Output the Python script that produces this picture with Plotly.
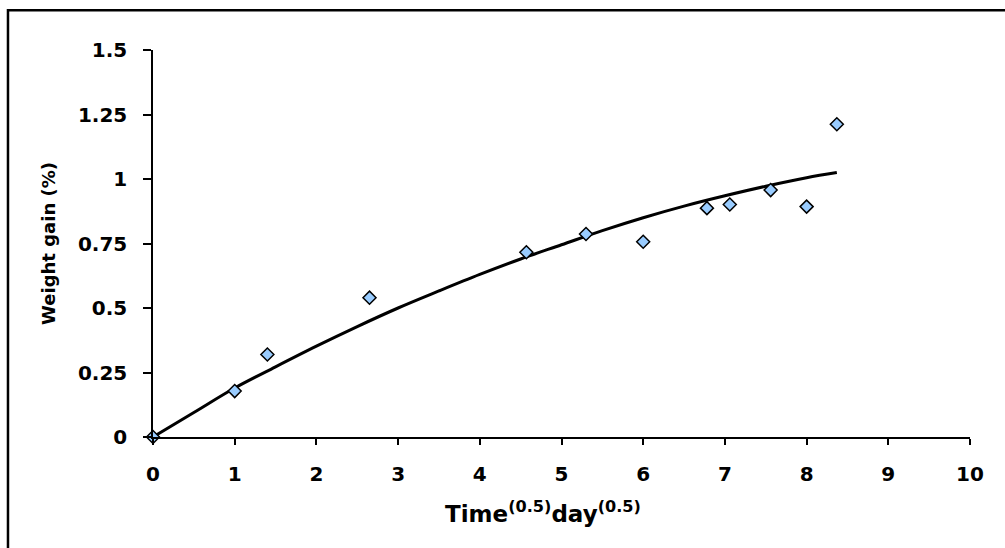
import plotly.graph_objects as go

# Measured weight gain against square root of time
sqrt_time = [0, 1.0, 1.4, 2.65, 4.57, 5.3, 6.0, 6.78, 7.06, 7.56, 8.0, 8.37]
weight_gain = [0, 0.178, 0.32, 0.54, 0.716, 0.787, 0.757, 0.887, 0.901, 0.957, 0.893, 1.212]

# Fitted model curve
fit_x = [0, 0.5, 1, 1.5, 2, 2.5, 3, 3.5, 4, 4.5, 5, 5.5, 6, 6.5, 7, 7.5, 8, 8.37]
fit_y = [0, 0.095, 0.19, 0.272, 0.352, 0.428, 0.5, 0.566, 0.63, 0.69, 0.745, 0.8, 0.85, 0.895, 0.935, 0.972, 1.005, 1.025]

x_ticks = [0, 1, 2, 3, 4, 5, 6, 7, 8, 9, 10]
y_ticks = [0, 0.25, 0.5, 0.75, 1, 1.25, 1.5]
y_tick_text = ["0", "0.25", "0.5", "0.75", "1", "1.25", "1.5"]

FONT = "DejaVu Sans"

fig = go.Figure()

fig.add_trace(go.Scatter(
    x=fit_x, y=fit_y, mode="lines",
    line=dict(color="black", width=3, shape="spline"),
    cliponaxis=False, showlegend=False,
))

fig.add_trace(go.Scatter(
    x=sqrt_time, y=weight_gain, mode="markers",
    marker=dict(symbol="diamond", size=10, color="#99CCFF",
                line=dict(color="black", width=1.5)),
    cliponaxis=False, showlegend=False,
))

fig.update_layout(
    width=1005, height=548,
    margin=dict(l=153, r=35, t=50, b=111),
    paper_bgcolor="white", plot_bgcolor="white",
    font=dict(family=FONT, color="black"),
    xaxis=dict(
        range=[0, 10], tickvals=x_ticks, showgrid=False, zeroline=False,
        showline=True, linecolor="black", linewidth=1.5,
        ticks="outside", ticklen=6, tickwidth=1.5, tickcolor="black",
        ticklabelstandoff=12,
        tickfont=dict(family=FONT, size=20, color="black", weight="bold"),
    ),
    yaxis=dict(
        range=[0, 1.5], tickvals=y_ticks, ticktext=y_tick_text,
        showgrid=False, zeroline=False,
        showline=True, linecolor="black", linewidth=1.5,
        ticks="outside", ticklen=8, tickwidth=1.5, tickcolor="black",
        ticklabelstandoff=12,
        tickfont=dict(family=FONT, size=20, color="black", weight="bold"),
        title=dict(text="Weight gain (%)", standoff=18,
                   font=dict(family=FONT, size=18, color="black", weight="bold")),
    ),
    annotations=[dict(
        text="Time<sup>(0.5)</sup>day<sup>(0.5)</sup>",
        xref="paper", yref="paper", x=0.477, y=-0.237,
        xanchor="center", yanchor="bottom", showarrow=False,
        font=dict(family=FONT, size=23, color="black", weight="bold"),
    )],
    shapes=[dict(
        type="rect", xref="paper", yref="paper",
        x0=-0.1775, x1=1.12, y0=-0.35, y1=1.103,
        line=dict(color="black", width=2.5), layer="below",
    )],
)

fig.write_html("out.html")
